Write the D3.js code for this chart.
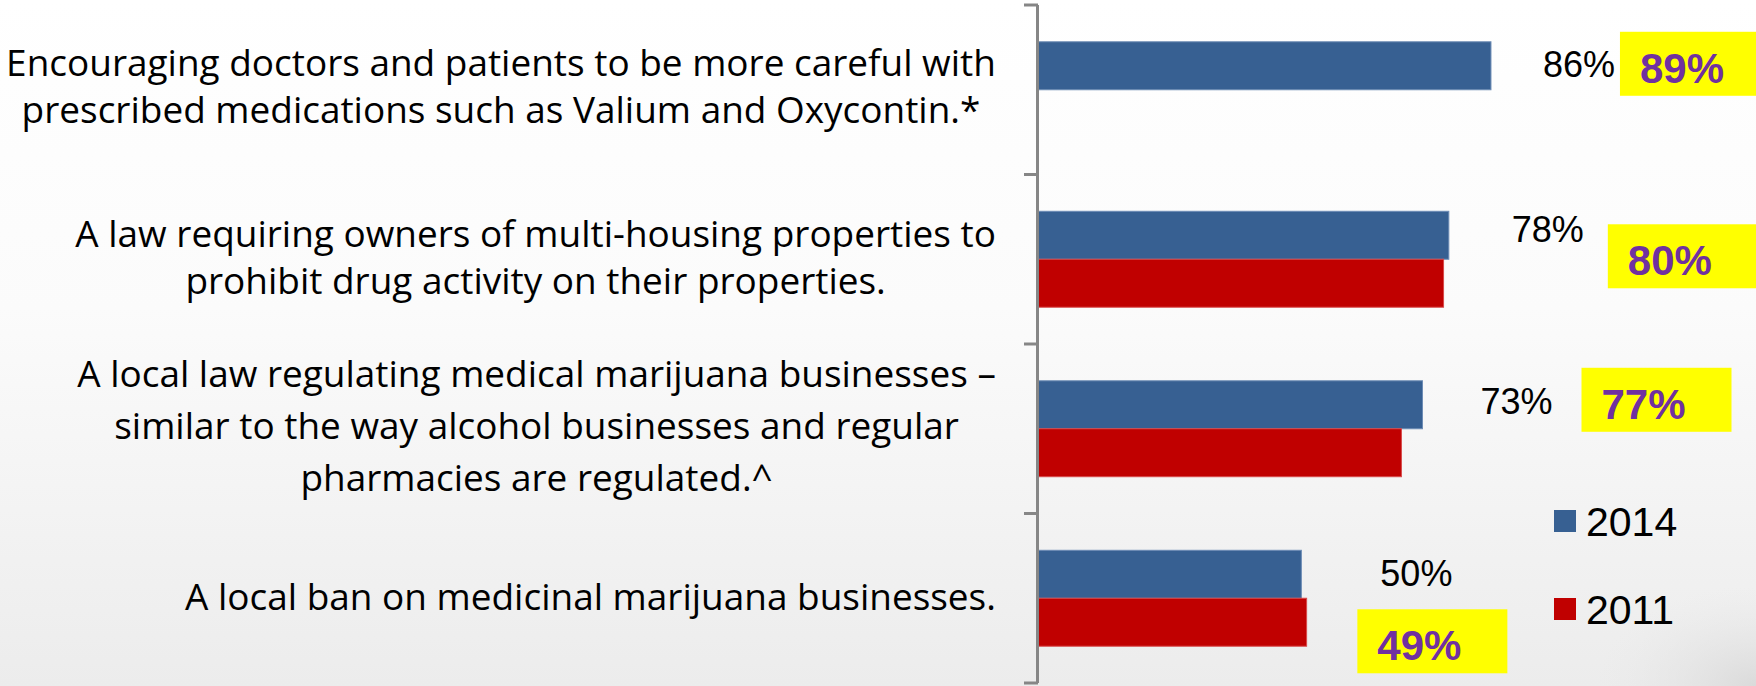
<!DOCTYPE html>
<html>
<head>
<meta charset="utf-8">
<script src="https://cdn.jsdelivr.net/npm/d3@7/dist/d3.min.js"></script>
<style>
  html, body { margin: 0; padding: 0; background: #fff; }
  svg { display: block; }
</style>
</head>
<body>
<svg id="chart" width="1756" height="686"></svg>
<script>
// ---------------- DATA ----------------
const categories = [
  ["Encouraging doctors and patients to be more careful with",
   "prescribed medications such as Valium and Oxycontin.*"],
  ["A law requiring owners of multi-housing properties to",
   "prohibit drug activity on their properties."],
  ["A local law regulating medical marijuana businesses \u2013",
   "similar to the way alcohol businesses and regular",
   "pharmacies are regulated.^"],
  ["A local ban on medicinal marijuana businesses."]
];
const seriesNames = ["2014", "2011"];
const values2014 = [86, 78, 73, 50];
const values2011 = [null, 77, 69, 51];      // bar lengths as drawn
const labels2014 = ["86%", "78%", "73%", "50%"];
const labels2011 = ["89%", "80%", "77%", "49%"];

// ---------------- LAYOUT (positions / styles) ----------------
const W = 1756, H = 686;
const colors = { "2014": "#376092", "2011": "#C00000" };
const label14Dx = [52, 63, 58, 79];
const label14Dy = [11, 7, 9, 12];
const badgeDx = [129, 159, 159, 56];
const badgeDy = [-10, 13, -13, 59];
const catLineH = [47, 47, 52, 47];
const catDy = [10, 11, 10, 12];

const svg = d3.select("#chart");

// background
const defs = svg.append("defs");
const lg = defs.append("linearGradient").attr("id", "bg")
  .attr("x1", 0).attr("y1", 0).attr("x2", 0).attr("y2", 1);
lg.append("stop").attr("offset", "0%").attr("stop-color", "#ffffff");
lg.append("stop").attr("offset", "45%").attr("stop-color", "#fbfbfb");
lg.append("stop").attr("offset", "100%").attr("stop-color", "#ececec");
svg.append("rect").attr("width", W).attr("height", H).attr("fill", "url(#bg)");
const rg = defs.append("radialGradient").attr("id", "corner")
  .attr("cx", 1).attr("cy", 1).attr("r", 0.35);
rg.append("stop").attr("offset", "0%").attr("stop-color", "#d8d8d8").attr("stop-opacity", 0.9);
rg.append("stop").attr("offset", "100%").attr("stop-color", "#e8e8e8").attr("stop-opacity", 0);
svg.append("rect").attr("x", 1300).attr("y", 400).attr("width", 456).attr("height", 286)
  .attr("fill", "url(#corner)");

// scales
const x = d3.scaleLinear().domain([0, 100]).range([1038, 1038 + 526.7]);
const pIn = 0.434;
const y = d3.scaleBand().domain(d3.range(categories.length))
  .range([5, 683]).paddingInner(pIn).paddingOuter(pIn / 2);
const ys = d3.scaleBand().domain(seriesNames).range([0, y.bandwidth()]);

// bars
const g = svg.append("g");
const rows = categories.map((c, i) => ({ i, v: { "2014": values2014[i], "2011": values2011[i] } }));
rows.forEach(r => {
  seriesNames.forEach(s => {
    const v = r.v[s];
    if (v == null) return;
    g.append("rect")
      .attr("x", x(0))
      .attr("y", y(r.i) + ys(s))
      .attr("width", x(v) - x(0))
      .attr("height", ys.bandwidth())
      .attr("fill", colors[s])
      .attr("stroke", s === "2014" ? "#6d8cb5" : "#d84a4a")
      .attr("stroke-width", 1);
  });
});

// axis (vertical line with ticks at category boundaries)
const axisG = svg.append("g");
const yTop = y.range()[0], yBot = y.range()[1];
axisG.append("line").attr("x1", x(0) - 0.5).attr("x2", x(0) - 0.5)
  .attr("y1", yTop).attr("y2", yBot)
  .attr("stroke", "#868686").attr("stroke-width", 3);
const boundaries = d3.range(categories.length + 1).map(k => yTop + k * y.step());
axisG.selectAll("line.tick").data(boundaries).join("line").attr("class", "tick")
  .attr("x1", x(0) - 14).attr("x2", x(0))
  .attr("y1", d => d).attr("y2", d => d)
  .attr("stroke", "#868686").attr("stroke-width", 3);

// category labels
const catFont = "'Open Sans', 'Noto Sans', sans-serif";
const catSize = 37;
const rightEdge = 996;
const tmp = svg.append("text").attr("font-family", catFont).attr("font-size", catSize);
function measure(t) { tmp.text(t); return tmp.node().getComputedTextLength(); }
const sx = 990 / measure(categories[0][0]);
const labelG = svg.append("g");
categories.forEach((lines, i) => {
  const widths = lines.map(measure);
  const maxW = d3.max(widths) * sx;
  const cx = rightEdge - maxW / 2;
  const cy = y(i) + y.bandwidth() / 2;
  const n = lines.length;
  lines.forEach((t, k) => {
    const base = cy + (k - (n - 1) / 2) * catLineH[i] + catDy[i];
    labelG.append("text")
      .attr("transform", `translate(${cx},${base}) scale(${sx},1)`)
      .attr("text-anchor", "middle")
      .attr("font-family", catFont).attr("font-size", catSize)
      .attr("fill", "#000").text(t);
  });
});
tmp.remove();

// 2014 value labels
const valFont = "'Liberation Sans', Arial, sans-serif";
values2014.forEach((v, i) => {
  const cy = y(i) + ys("2014") + ys.bandwidth() / 2;
  svg.append("text")
    .attr("x", x(v) + label14Dx[i]).attr("y", cy + label14Dy[i])
    .attr("font-family", valFont).attr("font-size", 36).attr("fill", "#000")
    .text(labels2014[i]);
});

// 2011 highlighted labels
values2014.forEach((v, i) => {
  const bx = x(v) + badgeDx[i], by = y(i) + badgeDy[i];
  svg.append("rect").attr("x", bx).attr("y", by).attr("width", 150).attr("height", 64)
    .attr("fill", "#FFFF00");
  svg.append("text").attr("x", bx + 20).attr("y", by + 51)
    .attr("font-family", valFont).attr("font-size", 42).attr("font-weight", "bold")
    .attr("fill", "#7030A0").text(labels2011[i]);
});

// legend
const leg = svg.append("g").attr("transform", "translate(1554,510)");
seriesNames.forEach((s, k) => {
  const gy = k * 88;
  leg.append("rect").attr("x", 0).attr("y", gy).attr("width", 22).attr("height", 22)
    .attr("fill", colors[s]);
  leg.append("text").attr("x", 32).attr("y", gy + 26)
    .attr("font-family", valFont).attr("font-size", 41).attr("fill", "#000").text(s);
});
</script>
</body>
</html>
